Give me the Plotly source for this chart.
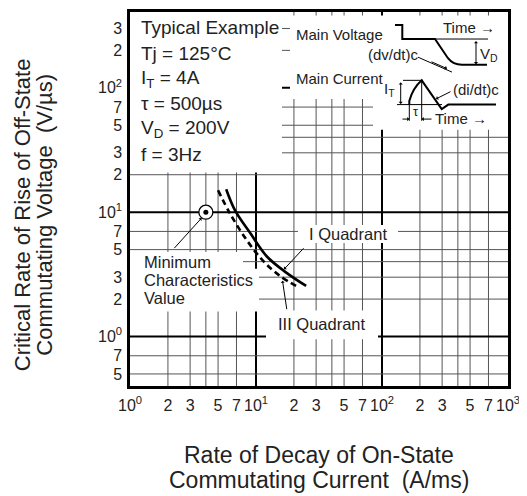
import numpy as np
import plotly.graph_objects as go

# ---------------- data ----------------
quad1_x = [5.8, 6.8, 9.0, 12.2, 17.5, 25.0]
quad1_y = [15.3, 10.4, 6.8, 4.4, 3.25, 2.55]
quad3_x = [5.0, 6.2, 8.4, 11.4, 15.5, 22.0]
quad3_y = [15.0, 9.8, 6.0, 4.05, 3.07, 2.47]
min_x = [4.0]
min_y = [10.0]

x_tickvals = [1, 2, 3, 4, 5, 7, 10, 20, 30, 40, 50, 70, 100, 200, 300, 400, 500, 700, 1000]
x_ticktext = ["10<sup>0</sup>", "2", "3", "", "5", "7", "10<sup>1</sup>", "2", "3", "", "5", "7",
              "10<sup>2</sup>", "2", "3", "", "5", "7", "10<sup>3</sup>"]
y_tickvals = [0.5, 0.7, 1, 2, 3, 4, 5, 7, 10, 20, 30, 40, 50, 70, 100, 200, 300]
y_ticktext = ["5", "7", "10<sup>0</sup>", "2", "3", "", "5", "7", "10<sup>1</sup>", "2", "3", "",
              "5", "7", "10<sup>2</sup>", "2", "3"]
decades = [1, 10, 100, 1000]

X_RANGE = [0, 3]
Y_RANGE = [np.log10(0.4), np.log10(407)]

# ---------------- geometry helpers ----------------
OFF = 8                      # page offset of the figure inside the window
FW, FH = 519, 488            # figure size
L, R, T, B = 130, 508, 9.5, 386   # plot-area edges in window pixels
FONT = "Liberation Sans, Arial, sans-serif"
TXT = "#222"
GRID = "#555"


def px(x):
    return (x - L) / (R - L)


def py(y):
    return (B - y) / (B - T)


def dx(v):
    return (np.log10(v) - X_RANGE[0]) / (X_RANGE[1] - X_RANGE[0])


def dy(v):
    return (np.log10(v) - Y_RANGE[0]) / (Y_RANGE[1] - Y_RANGE[0])


fig = go.Figure()

fig.add_trace(go.Scatter(x=quad1_x, y=quad1_y, mode="lines", line=dict(color="black", width=2.6, shape="spline"),
                         hoverinfo="skip", showlegend=False))
fig.add_trace(go.Scatter(x=quad3_x, y=quad3_y, mode="lines",
                         line=dict(color="black", width=2.6, shape="spline", dash="6px,4px"),
                         hoverinfo="skip", showlegend=False))
fig.add_trace(go.Scatter(x=min_x, y=min_y, mode="markers",
                         marker=dict(size=14, color="white", line=dict(color="black", width=1.3)),
                         hoverinfo="skip", showlegend=False))
fig.add_trace(go.Scatter(x=min_x, y=min_y, mode="markers",
                         marker=dict(size=5, color="black"), hoverinfo="skip", showlegend=False))

shapes = []
# grid lines (thin at 2,3,4,5,7; thick at decades)
for v in x_tickvals[1:-1]:
    thick = v in decades
    shapes.append(dict(type="line", xref="paper", yref="paper", x0=dx(v), x1=dx(v), y0=0, y1=1,
                       line=dict(color="black" if thick else GRID, width=2 if thick else 1), layer="below"))
for v in y_tickvals:
    thick = v in decades
    shapes.append(dict(type="line", xref="paper", yref="paper", x0=0, x1=1, y0=dy(v), y1=dy(v),
                       line=dict(color="black" if thick else GRID, width=2 if thick else 1), layer="below"))


def white_box(x0, y0, x1, y1):
    shapes.append(dict(type="rect", xref="paper", yref="paper", x0=px(x0), x1=px(x1), y0=py(y1), y1=py(y0),
                       fillcolor="white", line=dict(width=0), layer="below"))


white_box(129, 5, 282, 171)      # Typical Example block
white_box(290, 13, 510, 97)      # inset upper
white_box(373, 96, 510, 128)     # inset lower
white_box(129, 251, 243, 270)    # Minimum
white_box(129, 268, 259, 311)    # Characteristics / Value
white_box(298, 224, 398, 242)    # I Quadrant
white_box(266, 310, 378, 339)    # III Quadrant


def pth(points, cmds):
    s = ""
    i = 0
    for c in cmds:
        if c in "ML":
            x, y = points[i]
            s += f"{c}{px(x):.5f},{py(y):.5f} "
            i += 1
        elif c == "Q":
            (x1, y1), (x2, y2) = points[i], points[i + 1]
            s += f"Q{px(x1):.5f},{py(y1):.5f} {px(x2):.5f},{py(y2):.5f} "
            i += 2
    return s


def pline(x0, y0, x1, y1, w=1.0):
    shapes.append(dict(type="line", xref="paper", yref="paper", x0=px(x0), x1=px(x1), y0=py(y0), y1=py(y1),
                       line=dict(color="black", width=w), layer="above"))


# inset: voltage waveform
shapes.append(dict(type="path", xref="paper", yref="paper", layer="above",
                   path=pth([(395, 22.7), (402.3, 22.7), (402.3, 36.7), (435, 36.7), (448, 56),
                             (453, 62.7), (462, 62.7), (487, 62.7)], "MLLLLQL"),
                   line=dict(color="black", width=2)))
pline(435, 36.7, 488, 36.7, 1)
# inset: current waveform
shapes.append(dict(type="path", xref="paper", yref="paper", layer="above",
                   path=pth([(409.3, 102.7), (409.3, 99), (413, 86), (421.7, 78.3), (441.7, 107.3),
                             (448.3, 102.7), (496, 102.7)], "MLQLLL"),
                   line=dict(color="black", width=2)))
pline(403, 78.3, 423, 78.3, 1)
pline(397, 102.7, 442, 102.7, 1)
pline(409.3, 102.7, 409.3, 119, 1)
pline(421.7, 78.3, 421.7, 119, 1)
pline(418, 55, 452, 70, 1)

annotations = []


def text(s, x, y, size, anchor="left", color=TXT):
    annotations.append(dict(text=s, xref="paper", yref="paper", x=px(x), y=py(y), xanchor=anchor,
                            yanchor="middle", showarrow=False, font=dict(family=FONT, size=size, color=color)))


def arrow(tx, ty, sx, sy, side="end", head=2, w=1.0, size=0.8):
    annotations.append(dict(text="", xref="paper", yref="paper", x=px(tx), y=py(ty), ax=sx - tx, ay=sy - ty,
                            showarrow=True, arrowhead=head, arrowsize=size, arrowwidth=w, arrowcolor="black",
                            arrowside=side, startarrowhead=head, startarrowsize=size))


# Typical example block
ex_lines = ["Typical Example", "Tj = 125°C", "I<sub>T</sub> = 4A", "τ = 500µs", "V<sub>D</sub> = 200V", "f = 3Hz"]
for i, s in enumerate(ex_lines):
    text(s, 139, 25.5 + 25.5 * i, 19)

# inset texts
text("Main Voltage", 294, 31.7, 15)
text("Main Current", 294, 76.7, 15)
text("Time →", 469, 25, 15, "center")
text("(dv/dt)c", 393, 52.7, 15, "center")
text("V<sub>D</sub>", 489, 52, 15, "center")
text("I<sub>T</sub>", 389, 88, 15, "center")
text("(di/dt)c", 476, 88, 15, "center")
text("τ", 415.5, 110, 13, "center")
text("Time →", 461, 117, 15, "center")
arrow(476, 62, 476, 37.5, side="end+start", head=1, size=0.7)
arrow(400.7, 102, 400.7, 79, side="end+start", head=1, size=0.7)
arrow(409.3, 117.3, 401, 117.3, head=1, size=0.7)
arrow(421.7, 117.3, 433, 117.3, head=1, size=0.7)
arrow(436, 97, 452, 89, head=1, size=0.7)
arrow(447, 66.5, 430, 59, head=1, size=0.7)

# chart labels
text("Minimum", 142, 260.7, 16.5)
text("Characteristics", 142, 278.8, 16.5)
text("Value", 142, 297.5, 16.5)
text("I Quadrant", 348, 233, 16.5, "center")
text("III Quadrant", 322, 323.5, 16.5, "center")
arrow(201.5, 217, 173, 248.5, head=1, size=0.7)
arrow(284, 268.5, 305, 246, head=1, size=0.7)
arrow(282.5, 280, 287, 310, head=1, size=0.7)

# axis titles
text("Rate of Decay of On-State", 319, 455, 23, "center")
text("Commutating Current  (A/ms)", 319, 481, 23, "center")
annotations.append(dict(text="Critical Rate of Rise of Off-State", xref="paper", yref="paper",
                        x=px(22), y=py(214), textangle=-90, showarrow=False, xanchor="center", yanchor="middle",
                        borderpad=0, font=dict(family=FONT, size=22, color=TXT)))
annotations.append(dict(text="Commutating Voltage  (V/µs)", xref="paper", yref="paper",
                        x=px(44.5), y=py(214), textangle=-90, showarrow=False, xanchor="center", yanchor="middle",
                        borderpad=0, font=dict(family=FONT, size=22, color=TXT)))

axis_common = dict(type="log", showline=True, mirror=True, linecolor="black", linewidth=2.5,
                   showgrid=False, ticks="", zeroline=False,
                   tickfont=dict(family=FONT, size=16, color=TXT), tickmode="array", fixedrange=True)

fig.update_layout(
    width=FW, height=FH,
    margin=dict(l=L - OFF, r=FW - (R - OFF), t=T - OFF, b=FH - (B - OFF), pad=0),
    paper_bgcolor="white", plot_bgcolor="white",
    xaxis=dict(range=X_RANGE, tickvals=x_tickvals, ticktext=x_ticktext, ticklabelstandoff=3, **axis_common),
    yaxis=dict(range=Y_RANGE, tickvals=y_tickvals, ticktext=y_ticktext, ticklabelstandoff=2, **axis_common),
    shapes=shapes,
    annotations=annotations,
    showlegend=False,
)

fig.write_html("out.html")
